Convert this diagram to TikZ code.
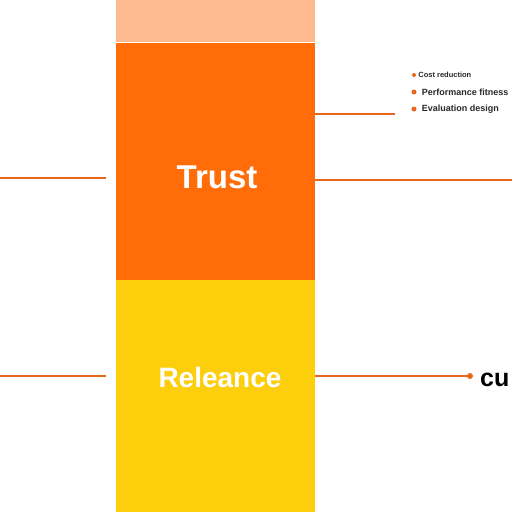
\documentclass[tikz,border=0pt]{standalone}
\usepackage{fontspec}
\setmainfont{Liberation Sans}
\usetikzlibrary{positioning}
\definecolor{bandpeach}{RGB}{252,186,142}
\definecolor{bandorange}{RGB}{255,108,8}
\definecolor{bandyellow}{RGB}{252,206,12}
\definecolor{lineorange}{RGB}{232,102,32}
\definecolor{textdark}{RGB}{40,40,40}

\begin{document}
\begin{tikzpicture}[
  x=1pt, y=-1pt,
  band/.style={rectangle, inner sep=0pt, minimum width=199pt, anchor=north west},
  label/.style={text=white, font=\bfseries\fontsize{30}{30}\selectfont},
  link/.style={draw=lineorange, line width=2.4pt},
  item/.style={font=\bfseries\fontsize{9}{9}\selectfont, text=textdark, inner sep=0pt, anchor=west},
  dot/.style={circle, fill=lineorange, inner sep=0pt, minimum size=5pt}
]
\useasboundingbox (0,0) rectangle (512,512);
\fill[white] (0,0) rectangle (512,512);

% column
\node[band, fill=bandpeach, minimum height=42pt] (cap) at (116,0) {};
\node[band, fill=bandorange, minimum height=237pt, below=0pt of cap.south west, anchor=north west] (trust) {};
\node[band, fill=bandyellow, minimum height=233pt, below=0pt of trust.south west, anchor=north west] (rel) {};
\node[label, font=\bfseries\fontsize{33}{33}\selectfont] (trusttxt) at (217,177) {Trust};
\node[label, font=\bfseries\fontsize{28}{28}\selectfont] (reltxt) at (220,377) {Releance};

% bullets
\node[dot, minimum size=4pt] (b1) at (414,75) {};
\node[dot] (b2) at (414,92) {};
\node[dot] (b3) at (414,109) {};
\node[item, right=2pt of b1, font=\bfseries\fontsize{7.5}{8}\selectfont] {Cost reduction};
\node[item, right=5pt of b2] {Performance fitness};
\node[item, right=5pt of b3] {Evaluation design};

% connectors
\coordinate (l1) at (0,178);
\coordinate (l2) at (0,376);
\coordinate (r1) at (395,114);
\coordinate (r2) at (512,180);
\node[dot, minimum size=6pt] (r3) at (470,376) {};
\node[font=\bfseries\fontsize{25}{25}\selectfont, anchor=west, inner sep=0pt] (cut) at (480,380) {cu};

\draw[link] (l1) -- (106,178);
\draw[link] (l2) -- (106,376);
\draw[link] (trust.east |- r1) -- (r1);
\draw[link] (trust.east |- r2) -- (r2);
\draw[link] (rel.east |- r3) -- (r3);
\end{tikzpicture}
\end{document}
